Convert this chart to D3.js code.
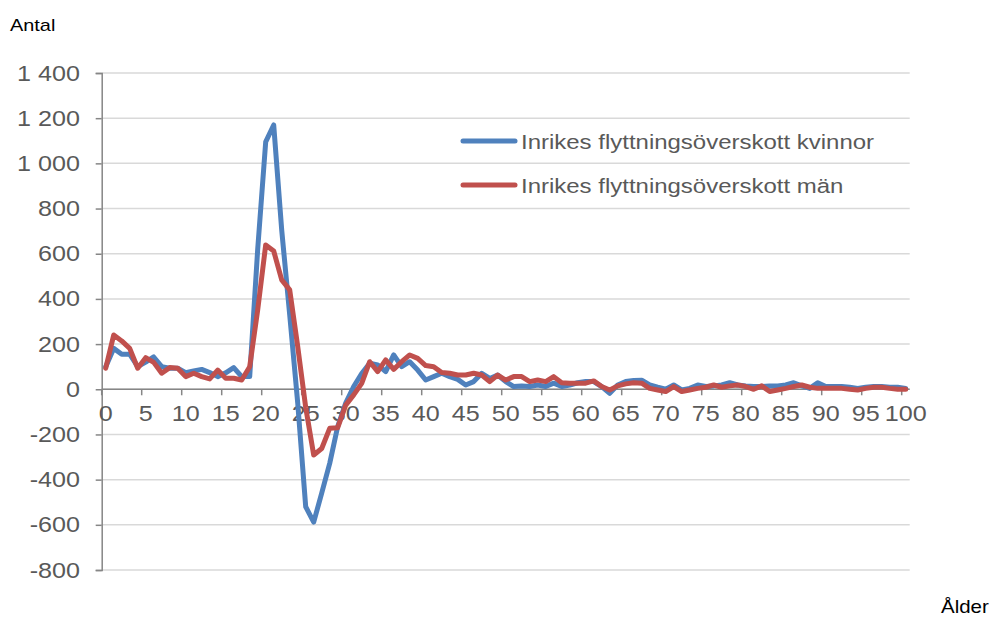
<!DOCTYPE html>
<html>
<head>
<meta charset="utf-8">
<script src="https://cdn.jsdelivr.net/npm/d3@7"></script>
<style>
  body { margin: 0; background: #fff; }
  svg text { font-family: "Liberation Sans", Arial, sans-serif; }
</style>
</head>
<body>
<div id="chart"></div>
<script>
// ages 0..100
var ages = d3.range(0, 101);

var kvinnor = [
  100, 181, 155, 155, 100, 120, 143, 100, 93, 93,
  73, 81, 88, 74, 56, 73, 96, 56, 56, 620,
  1095, 1170, 705, 330, -60, -520, -588, -460, -328, -165,
  -61, 12, 70, 115, 108, 78, 152, 100, 122, 85,
  41, 56, 71, 56, 44, 19, 34, 71, 48, 63,
  34, 12, 15, 12, 19, 12, 27, 12, 19, 29,
  34, 34, 12, -18, 19, 34, 39, 40, 19, 9,
  0, 19, -3, 4, 19, 12, 15, 19, 29, 19,
  15, 12, 12, 15, 15, 19, 29, 15, 4, 29,
  12, 12, 12, 9, 4, 9, 12, 12, 9, 9,
  4
];

var man = [
  93, 240, 214, 181, 93, 140, 119, 71, 96, 93,
  56, 71, 56, 46, 85, 49, 49, 41, 100, 351,
  639, 612, 484, 440, 190, -80, -291, -262, -173, -170,
  -70, -25, 26, 122, 78, 130, 88, 122, 152, 137,
  105, 100, 74, 71, 63, 63, 71, 63, 34, 63,
  41, 56, 56, 34, 41, 34, 56, 29, 27, 27,
  27, 37, 12, -3, 15, 24, 29, 27, 4, -3,
  -10, 12, -10, -3, 4, 9, 19, 9, 15, 19,
  12, 0, 15, -10, -3, 4, 12, 19, 9, 4,
  4, 4, 4, 0, -3, 4, 9, 9, 4, 0,
  0
];

var seriesNames = ["Inrikes flyttningsöverskott kvinnor", "Inrikes flyttningsöverskott män"];
var seriesColors = ["#4F81BD", "#C0504D"];
var yTicks = [-800, -600, -400, -200, 0, 200, 400, 600, 800, 1000, 1200, 1400];
var xLabelAges = d3.range(0, 101, 5);

var width = 995, height = 619;
var margin = { top: 73, left: 101.7, right: 85.3, bottom: 49 };
var stretch = 1.17; // text in the picture is a bit wider than normal

var svg = d3.select("#chart").append("svg")
    .attr("width", width)
    .attr("height", height);

// places a horizontally stretched text
function label(g, tx, ty, txt, size, fill, anchor) {
  return g.append("text")
      .attr("transform", "translate(" + tx + "," + ty + ") scale(" + stretch + ",1)")
      .attr("text-anchor", anchor || "start")
      .attr("font-size", size + "px")
      .attr("fill", fill)
      .text(txt);
}

var x = d3.scalePoint()
    .domain(ages)
    .range([margin.left, width - margin.right])
    .padding(0.5);
var step = x.step();

var y = d3.scaleLinear()
    .domain([-800, 1400])
    .range([height - margin.bottom, margin.top]);

// horizontal gridlines
svg.append("g")
  .selectAll("line")
  .data(yTicks)
  .enter().append("line")
    .attr("x1", margin.left)
    .attr("x2", width - margin.right)
    .attr("y1", function(d) { return y(d); })
    .attr("y2", function(d) { return y(d); })
    .attr("stroke", "#D9D9D9")
    .attr("stroke-width", 1.5);

// y axis
var yAxis = svg.append("g")
    .attr("transform", "translate(" + margin.left + ",0)")
    .call(d3.axisLeft(y)
      .tickValues(yTicks)
      .tickSize(6)
      .tickFormat(""));
yAxis.select(".domain").attr("stroke", "#868686").attr("stroke-width", 1.5);
yAxis.selectAll(".tick line").attr("stroke", "#868686").attr("stroke-width", 1.5);

var yFmt = function(d) { return d3.format(",")(Math.abs(d)).replace(/,/g, " "); };
yTicks.forEach(function(d) {
  label(svg, 80, y(d) + 7.5, (d < 0 ? "-" : "") + yFmt(d), 21.5, "#595959", "end");
});

// x axis at zero
var x0 = y(0);
svg.append("line")
    .attr("x1", margin.left)
    .attr("x2", width - margin.right)
    .attr("y1", x0)
    .attr("y2", x0)
    .attr("stroke", "#868686")
    .attr("stroke-width", 1.5);

svg.append("g")
  .selectAll("line")
  .data(xLabelAges)
  .enter().append("line")
    .attr("x1", function(d) { return x(d) - step / 2; })
    .attr("x2", function(d) { return x(d) - step / 2; })
    .attr("y1", x0)
    .attr("y2", x0 + 6)
    .attr("stroke", "#868686")
    .attr("stroke-width", 1.5);

xLabelAges.forEach(function(d) {
  label(svg, x(d), x0 + 32, d, 21.5, "#595959", "middle");
});

// lines
var line = d3.line()
    .x(function(d, i) { return x(ages[i]); })
    .y(function(d) { return y(d); });

[kvinnor, man].forEach(function(vals, i) {
  svg.append("path")
      .datum(vals)
      .attr("fill", "none")
      .attr("stroke", seriesColors[i])
      .attr("stroke-width", 5)
      .attr("stroke-linejoin", "round")
      .attr("stroke-linecap", "round")
      .attr("d", line);
});

// legend
var legend = svg.append("g");
seriesNames.forEach(function(name, i) {
  var ly = 141 + i * 44;
  legend.append("line")
      .attr("x1", 463).attr("x2", 515)
      .attr("y1", ly).attr("y2", ly)
      .attr("stroke", seriesColors[i])
      .attr("stroke-width", 5)
      .attr("stroke-linecap", "round");
  label(legend, 521, ly + 7.5, name, 20.5, "#595959");
});

// axis titles
label(svg, 10, 31, "Antal", 17, "#000");
label(svg, 941, 613, "Ålder", 17.5, "#000");
</script>
</body>
</html>
